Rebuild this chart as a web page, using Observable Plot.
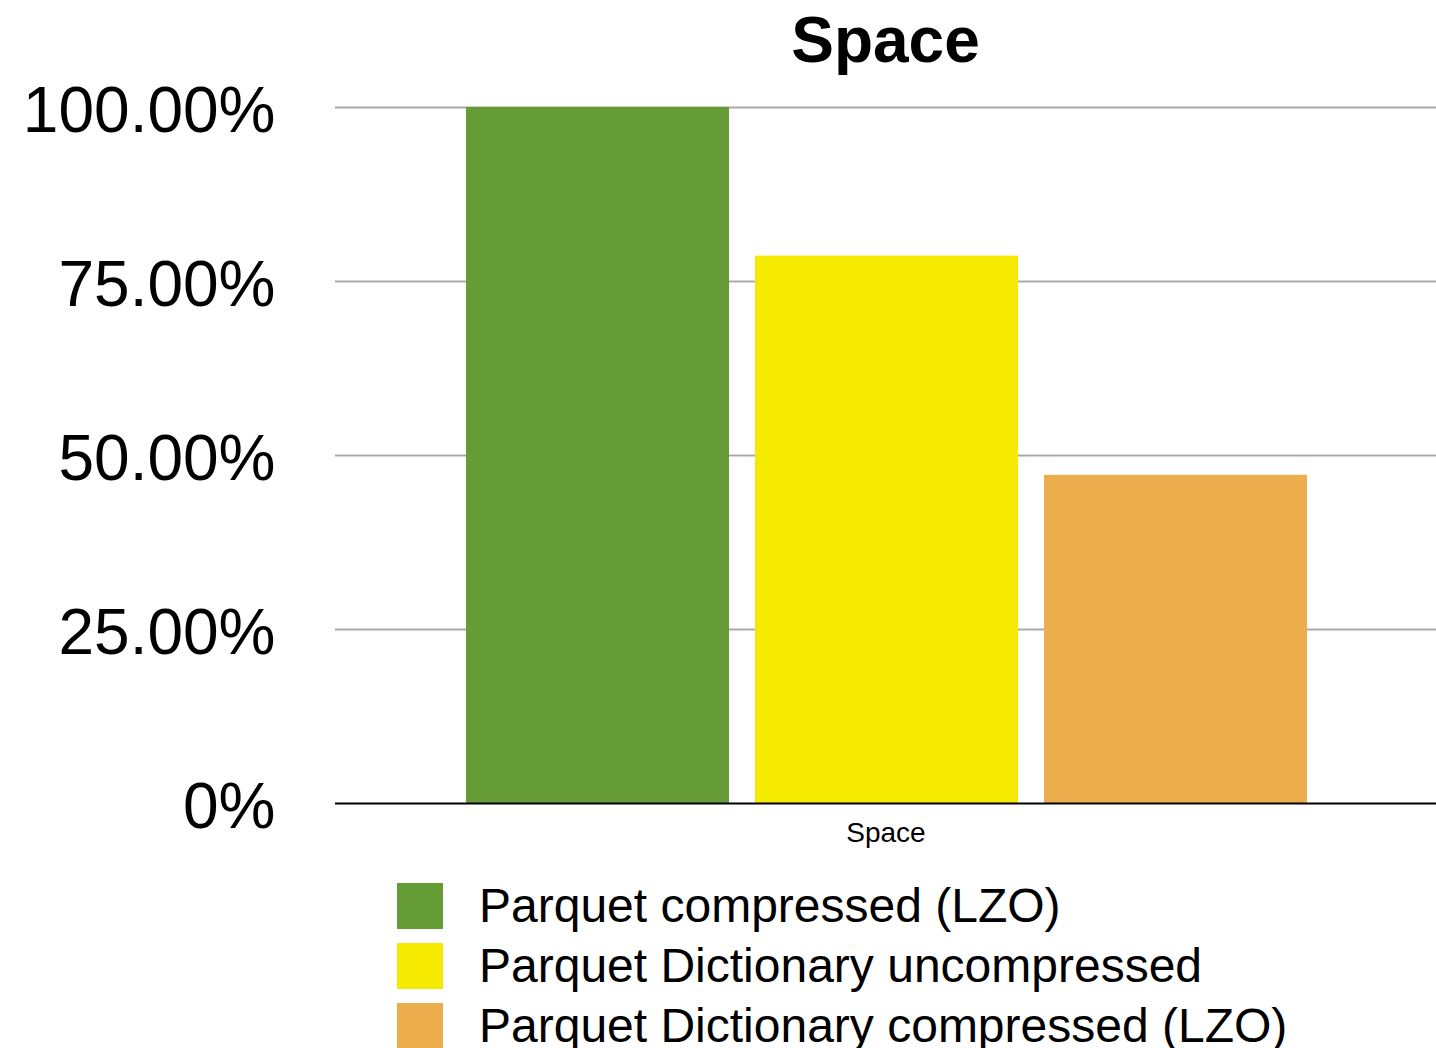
<!DOCTYPE html>
<html>
<head>
<meta charset="utf-8">
<script src="https://cdn.jsdelivr.net/npm/d3@7"></script>
<script src="https://cdn.jsdelivr.net/npm/@observablehq/plot@0.6"></script>
<style>
  html, body { margin: 0; padding: 0; background: #fff; }
  body { width: 1436px; font-family: "Liberation Sans", Arial, Helvetica, sans-serif; color: #000; }
  #title {
    box-sizing: border-box;
    height: 78px;
    padding-top: 3px;
    padding-left: 335px;
    line-height: 75px;
    font-size: 64px;
    font-weight: bold;
    text-align: center;
  }
  #chart svg { display: block; }
  #legend { padding-left: 397px; }
  .row { display: flex; align-items: center; height: 60px; }
  .swatch { width: 46px; height: 46px; margin-right: 36px; flex: none; }
  .label { font-size: 48px; line-height: 60px; white-space: nowrap; }
</style>
</head>
<body>
<div id="title">Space</div>
<div id="chart"></div>
<div id="legend"></div>
<script>
// Category on the x axis
const categories = ["Space"];
// Series (one bar each within the category)
const series = [
  "Parquet compressed (LZO)",
  "Parquet Dictionary uncompressed",
  "Parquet Dictionary compressed (LZO)"
];
// Relative space used, in percent
const values = [100, 78.65, 47.15];
const colors = ["#659c35", "#f5e900", "#ecae4c"];
// Y axis ticks and their labels
const yTicks = [0, 25, 50, 75, 100];
const yTickLabels = ["0%", "25.00%", "50.00%", "75.00%", "100.00%"];

const data = series.map((s, i) => ({ category: categories[0], series: s, value: values[i] }));

const chart = Plot.plot({
  width: 1436,
  height: 798,
  marginLeft: 335,
  marginRight: 0,
  marginTop: 29,
  marginBottom: 73,
  style: { fontFamily: '"Liberation Sans", Arial, Helvetica, sans-serif', background: "#fff", color: "#000", overflow: "visible" },
  fx: { domain: categories, padding: 0, label: null },
  x: { domain: series, paddingInner: 0.09, paddingOuter: 0, insetLeft: 130, insetRight: 128, axis: null },
  y: { domain: [0, 100], label: null },
  color: { domain: series, range: colors },
  marks: [
    Plot.ruleY(yTicks.filter(d => d > 0), { y: d => d, stroke: "#aaaaaa", strokeWidth: 2 }),
    Plot.barY(data, { fx: "category", x: "series", y: "value", fill: "series" }),
    Plot.ruleY([0], { stroke: "#000", strokeWidth: 2 }),
    Plot.axisY(yTicks, {
      tickSize: 0,
      tickPadding: 60,
      fontSize: 64,
      dy: 4,
      label: null,
      tickFormat: d => yTickLabels[yTicks.indexOf(d)]
    }),
    Plot.axisFx({ anchor: "bottom", tickSize: 0, tickPadding: 19, fontSize: 28, label: null })
  ]
});
document.getElementById("chart").appendChild(chart);

// Legend rows below the chart
const legend = d3.select("#legend");
series.forEach((s, i) => {
  const row = legend.append("div").attr("class", "row");
  row.append("div").attr("class", "swatch").style("background", colors[i]);
  row.append("div").attr("class", "label").text(s);
});
</script>
</body>
</html>
